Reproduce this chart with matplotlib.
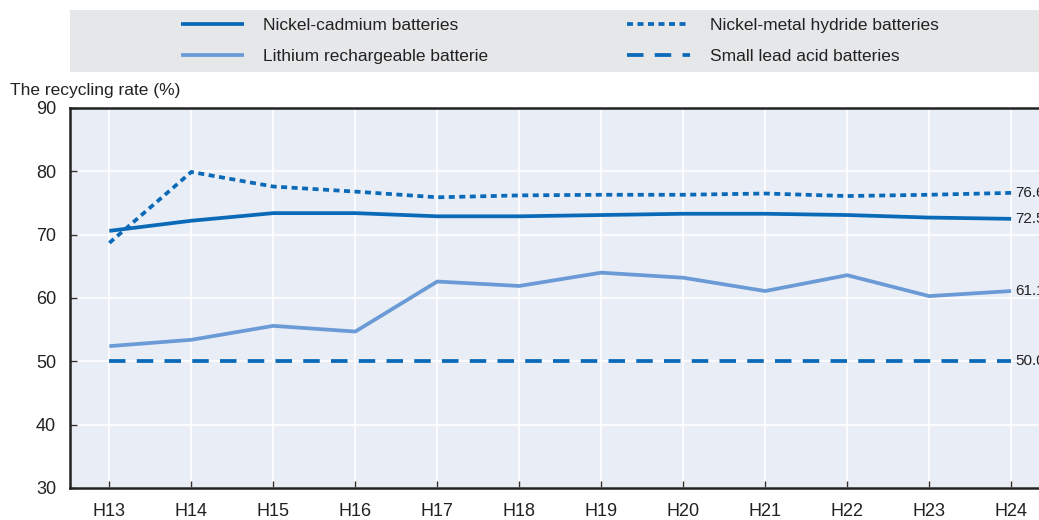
import matplotlib
matplotlib.use("Agg")
import matplotlib.pyplot as plt
from matplotlib.patches import Rectangle

plt.rcParams['font.family'] = ['Liberation Sans Narrow', 'Liberation Sans', 'DejaVu Sans']

years = ['H13', 'H14', 'H15', 'H16', 'H17', 'H18', 'H19', 'H20', 'H21', 'H22', 'H23', 'H24']
nicd = [70.6, 72.2, 73.4, 73.4, 72.9, 72.9, 73.1, 73.3, 73.3, 73.1, 72.7, 72.5]
nimh = [68.7, 79.9, 77.6, 76.8, 75.9, 76.2, 76.3, 76.3, 76.5, 76.1, 76.3, 76.6]
lithium = [52.4, 53.4, 55.6, 54.7, 62.6, 61.9, 64.0, 63.2, 61.1, 63.6, 60.3, 61.1]
lead = [50.0] * 12

dark = '#0a6ab8'
light = '#6b9bd6'
text_col = '#222222'

fig = plt.figure(figsize=(10.39, 5.2), dpi=100)
ax = fig.add_axes([70 / 1039, 32 / 520, 1 - 70 / 1039, 380 / 520])
ax.set_facecolor('#e9edf6')

x = list(range(len(years)))
ax.plot(x, nicd, color=dark, lw=2.7, label='Nickel-cadmium batteries', solid_capstyle='butt')
ax.plot(x, lithium, color=light, lw=2.7, label='Lithium rechargeable batterie', solid_capstyle='butt')
ax.plot(x, nimh, color=dark, lw=2.7, linestyle=(0, (1.6, 1.2)), label='Nickel-metal hydride batteries')
ax.plot(x, lead, color=dark, lw=2.7, linestyle=(0, (4.4, 3.0)), label='Small lead acid batteries')

# end-of-line value labels (run off the right edge)
for series in (nicd, nimh, lithium, lead):
    ax.text(x[-1] + 0.055, series[-1], f'{series[-1]:.1f}', va='center', ha='left',
            fontsize=11, color=text_col, clip_on=False)

ax.set_xlim(-0.48, 11.34)
ax.set_ylim(30, 90)
ax.set_xticks(x)
ax.set_xticklabels(years)
ax.set_yticks(range(30, 91, 10))
ax.grid(True, color='white', lw=1.2)
ax.set_axisbelow(True)
ax.tick_params(direction='in', length=5, width=1, color='#333333', labelsize=13,
               labelcolor=text_col)
ax.tick_params(axis='x', pad=11)
ax.tick_params(axis='y', pad=10)
for side in ('left', 'bottom', 'top'):
    ax.spines[side].set_color('#222222')
    ax.spines[side].set_linewidth(1.8)
ax.spines['right'].set_visible(False)

fig.text(10 / 1039, 1 - 90 / 520, 'The recycling rate (%)', fontsize=12.5, color=text_col,
         va='center', ha='left')

# legend band
fig.patches.append(Rectangle((70 / 1039, 1 - 72 / 520), 1, 62 / 520, transform=fig.transFigure,
                             facecolor='#e6e7e9', edgecolor='none', zorder=0))
handles, labels = ax.get_legend_handles_labels()
leg = fig.legend(handles, labels, ncol=2, loc='center left', bbox_to_anchor=(181 / 1039, 1 - 41 / 520),
                 frameon=False, fontsize=12.5, handlelength=3.6, handletextpad=1.15,
                 columnspacing=8.0, labelspacing=0.95, borderpad=0, borderaxespad=0)
for t in leg.get_texts():
    t.set_color(text_col)

fig.savefig('out.png', dpi=100)
